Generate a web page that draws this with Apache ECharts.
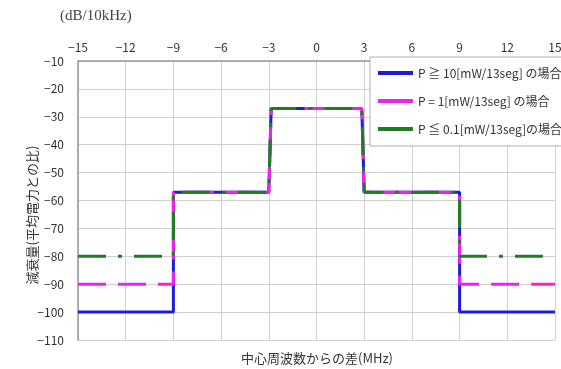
<!DOCTYPE html>
<html><head><meta charset="utf-8">
<script src="https://cdn.jsdelivr.net/npm/echarts@6/dist/echarts.min.js"></script>
<style>html,body{margin:0;padding:0;background:#fff}#c{width:561px;height:369px}</style>
</head><body><div id="c"></div>
<script>
const freq = [-15, -9, -9, -3, -2.85, 2.85, 3, 9, 9, 15];
const highPower = [-100, -100, -57, -57, -27, -27, -57, -57, -100, -100];
const midPower = [-90, -90, -57, -57, -27, -27, -57, -57, -90, -90];
const lowPower = [-80, -80, -57, -57, -27, -27, -57, -57, -80, -80];
const seriesNames = ['P \u2267 10[mW/13seg] の場合', 'P = 1[mW/13seg] の場合', 'P \u2266 0.1[mW/13seg]の場合'];
const xTitle = '中心周波数からの差(MHz)';
const yTitle = '減衰量(平均電力との比)';
const unitLabel = '(dB/10kHz)';

const pair = ys => freq.map((x, i) => [x, ys[i]]);
const minus = v => String(v).replace('-', '\u2212');
const jp = '"Noto Sans CJK JP", "Noto Sans", sans-serif';

const chart = echarts.init(document.getElementById('c'));
chart.setOption({
  animation: false,
  backgroundColor: '#fff',
  grid: { left: 78, right: 6, top: 61, bottom: 29, outerBoundsMode: 'none', containLabel: false },
  xAxis: {
    type: 'value', position: 'top', min: -15, max: 15, interval: 3,
    axisLine: { show: true, onZero: false, lineStyle: { color: '#999', width: 1.5 } },
    axisTick: { show: false },
    axisLabel: { color: '#333', fontSize: 12, fontFamily: jp, formatter: minus, margin: 8 },
    splitLine: { show: true, lineStyle: { color: '#d0d0d0', width: 1 } }
  },
  yAxis: {
    type: 'value', min: -110, max: -10, interval: 10,
    axisLine: { show: true, onZero: false, lineStyle: { color: '#999', width: 1.5 } },
    axisTick: { show: false },
    axisLabel: { color: '#333', fontSize: 12, fontFamily: jp, formatter: minus, margin: 14 },
    splitLine: { show: true, lineStyle: { color: '#d0d0d0', width: 1 } }
  },
  legend: {
    orient: 'vertical', left: 370, top: 57,
    backgroundColor: '#fff', borderColor: '#b0b0b0', borderWidth: 1,
    padding: [10, 40, 11, 8], itemGap: 16,
    itemWidth: 35, itemHeight: 4, icon: 'rect', itemStyle: { borderWidth: 0 },
    textStyle: { color: '#333', fontSize: 12, fontFamily: jp },
    data: seriesNames
  },
  series: [
    { name: seriesNames[0], type: 'line', data: pair(highPower), showSymbol: false, z: 2,
      color: '#1c1cdc', lineStyle: { width: 3, color: '#1c1cdc' } },
    { name: seriesNames[1], type: 'line', data: pair(midPower), showSymbol: false, z: 3,
      color: '#f020f0', lineStyle: { width: 3, color: '#f020f0', type: [28, 12] } },
    { name: seriesNames[2], type: 'line', data: pair(lowPower), showSymbol: false, z: 4,
      color: '#1f7f1f', lineStyle: { width: 3, color: '#1f7f1f', type: [28, 12, 4, 12] } }
  ],
  graphic: [
    { type: 'text', left: 60, top: 9, style: { text: unitLabel, fill: '#444', fontSize: 15, fontFamily: '"Liberation Serif", "DejaVu Serif", serif' } },
    { type: 'text', x: 317, y: 358, style: { text: xTitle, fill: '#333', fontSize: 13, fontFamily: jp, align: 'center', verticalAlign: 'middle' } },
    { type: 'text', x: 32, y: 215, rotation: Math.PI / 2, style: { text: yTitle, fill: '#333', fontSize: 13, fontFamily: jp, align: 'center', verticalAlign: 'middle' } }
  ]
});
</script></body></html>
